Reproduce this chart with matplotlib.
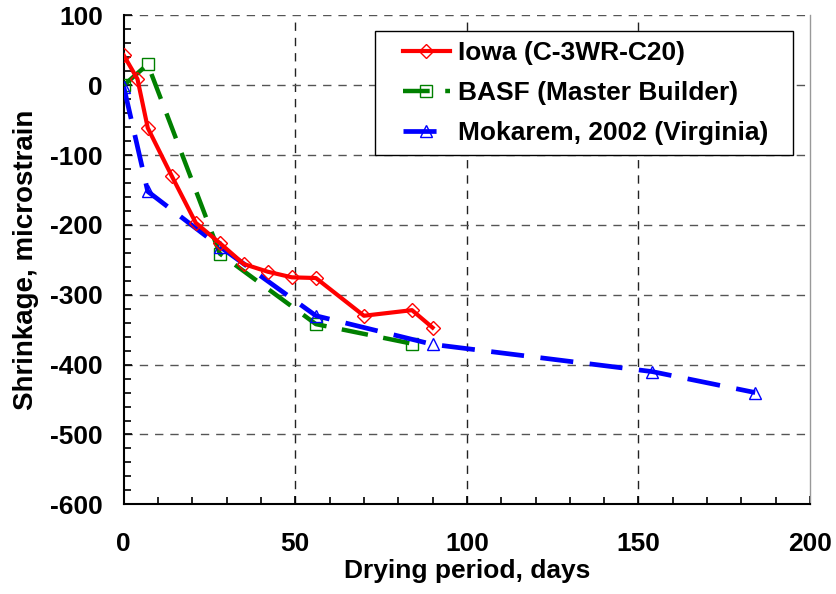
import numpy as np
import matplotlib.pyplot as plt
from matplotlib.ticker import MultipleLocator
from matplotlib.legend_handler import HandlerLine2D

plt.rcParams['font.family'] = ['Liberation Sans', 'DejaVu Sans']
plt.rcParams['font.weight'] = 'bold'
plt.rcParams['axes.unicode_minus'] = False

# data
iowa_days = [0, 4, 7, 14, 21, 28, 35, 42, 49, 56, 70, 84, 90]
iowa_vals = [43, 9, -61, -130, -197, -226, -256, -267, -275, -276, -330, -322, -347]

basf_days = [0, 7, 28, 56, 84]
basf_vals = [0, 30, -241, -342, -370]

mok_days = [0, 7, 28, 56, 90, 154, 184]
mok_vals = [-2, -152, -231, -330, -371, -410, -440]

labels = ['Iowa (C-3WR-C20)', 'BASF (Master Builder)', 'Mokarem, 2002 (Virginia)']

fig = plt.figure(figsize=(8.36, 5.94), dpi=100)
ax = fig.add_axes([0.148, 0.151, 0.821, 0.823])

# grid
for x in [50, 100, 150]:
    ax.axvline(x, color='#222222', lw=1.0, ls=(0, (6, 5)), zorder=1)
for y in [100, 0, -100, -200, -300, -400, -500]:
    ax.axhline(y, color='#555555', lw=1.0, ls=(0, (6, 5)), zorder=1)

ax.plot(iowa_days, iowa_vals, color='red', lw=3.0, marker='D', ms=7,
        mfc='none', mec='red', mew=1.0, label=labels[0], zorder=4)
ax.plot(basf_days, basf_vals, color='green', lw=3.2, ls=(0, (6, 3.5)),
        marker='s', ms=9, mfc='none', mec='green', mew=1.0, label=labels[1], zorder=3)
ax.plot(mok_days, mok_vals, color='blue', lw=3.4, ls=(0, (7, 3.5)),
        marker='^', ms=9, mfc='none', mec='blue', mew=1.0, label=labels[2], zorder=3)

ax.set_xlim(0, 200)
ax.set_ylim(-600, 100)
ax.xaxis.set_major_locator(MultipleLocator(50))
ax.xaxis.set_minor_locator(MultipleLocator(10))
ax.yaxis.set_major_locator(MultipleLocator(100))
ax.yaxis.set_minor_locator(MultipleLocator(20))
ax.tick_params(which='both', direction='in', labelsize=19, width=1.2)
ax.tick_params(which='major', length=6)
ax.tick_params(which='minor', length=5)
ax.tick_params(axis='x', pad=20)
ax.tick_params(axis='y', pad=15)
for t in ax.get_xticklabels() + ax.get_yticklabels():
    t.set_fontweight('bold')

ax.spines['top'].set_visible(False)
ax.spines['right'].set_color('#999999')
ax.spines['right'].set_linewidth(1.0)
ax.spines['left'].set_linewidth(1.5)
ax.spines['bottom'].set_linewidth(1.5)

ax.set_xlabel('Drying period, days', fontsize=19, fontweight='bold', labelpad=2)
ax.set_ylabel('Shrinkage, microstrain', fontsize=20, fontweight='bold', labelpad=8)

leg = ax.legend(loc='upper left', bbox_to_anchor=(0.366, 0.0, 0.609, 0.969),
                mode='expand', borderaxespad=0, fontsize=19,
                frameon=True, fancybox=False, edgecolor='black', framealpha=1,
                handlelength=2.45, borderpad=0.4, labelspacing=0.6,
                handletextpad=0.3,
                handler_map={plt.Line2D: HandlerLine2D(xpad=0.65)})
leg.get_frame().set_linewidth(1.0)
for t in leg.get_texts():
    t.set_fontweight('bold')

fig.savefig('out.png', dpi=100)
